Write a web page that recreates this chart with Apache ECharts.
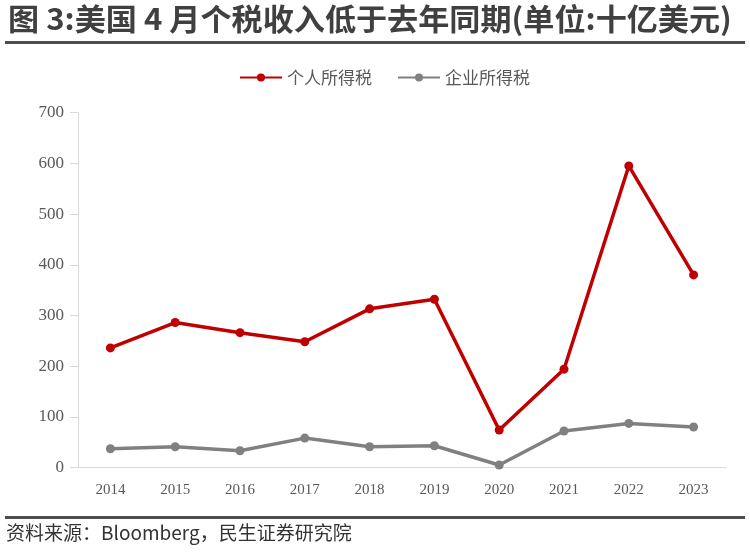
<!DOCTYPE html>
<html><head><meta charset="utf-8">
<script src="https://cdn.jsdelivr.net/npm/echarts@6/dist/echarts.min.js"></script>
<style>html,body{margin:0;padding:0;background:#fff}#c{width:750px;height:560px}</style>
</head><body><div id="c"></div>
<script>
var years = ['2014','2015','2016','2017','2018','2019','2020','2021','2022','2023'];
var personalTax = [236, 286, 266, 248, 313, 332, 74, 194, 595, 380];
var corporateTax = [37, 41, 33, 58, 41, 43, 5, 72, 87, 80];
var seriesNames = ['个人所得税', '企业所得税'];
var titleText = '图 3:美国 4 月个税收入低于去年同期(单位:十亿美元)';
var sourceText = '资料来源：Bloomberg，民生证券研究院';

var chart = echarts.init(document.getElementById('c'));
chart.setOption({
  animation: false,
  backgroundColor: '#fff',
  graphic: [
    {type:'text', x: 8, y: 4, scaleX: 1.037, style:{text: titleText, font: 'bold 30px "Noto Sans CJK SC"', fill:'#404040'}},
    {type:'rect', shape:{x:5, y:41, width:740, height:3}, style:{fill:'#4d4d4d'}},
    {type:'rect', shape:{x:5, y:516, width:740, height:3}, style:{fill:'#4d4d4d'}},
    {type:'text', left: 6, top: 523, style:{text: sourceText, font: '19px "Noto Sans CJK SC"', fill:'#333'}}
  ],
  legend: {
    top: 64, left: 234,
    itemWidth: 42, itemHeight: 10, itemGap: 25,
    textStyle: {fontFamily: '"Noto Sans CJK SC"', fontSize: 17, color: '#595959'},
    data: seriesNames
  },
  grid: {left: 78, top: 112.7, width: 648, bottom: 92.5, containLabel: false},
  xAxis: {
    type: 'category', data: years, boundaryGap: true,
    axisLine: {lineStyle: {color: '#d9d9d9', width: 1}},
    axisTick: {show: false},
    axisLabel: {margin: 15, fontFamily: '"Liberation Serif"', fontSize: 15, color: '#595959'}
  },
  yAxis: {
    type: 'value', min: 0, max: 700, interval: 100,
    axisLine: {show: true, lineStyle: {color: '#d9d9d9', width: 1}},
    axisTick: {show: true, length: 8, lineStyle: {color: '#d9d9d9'}},
    splitLine: {show: false},
    axisLabel: {margin: 14, fontFamily: '"Liberation Serif"', fontSize: 17, color: '#595959'}
  },
  series: [
    {name: seriesNames[0], type: 'line', data: personalTax, symbol: 'circle', symbolSize: 9,
     lineStyle: {color: '#C00000', width: 3.5}, itemStyle: {color: '#C00000'}},
    {name: seriesNames[1], type: 'line', data: corporateTax, symbol: 'circle', symbolSize: 9,
     lineStyle: {color: '#808080', width: 3.5}, itemStyle: {color: '#808080'}}
  ]
});
</script></body></html>
